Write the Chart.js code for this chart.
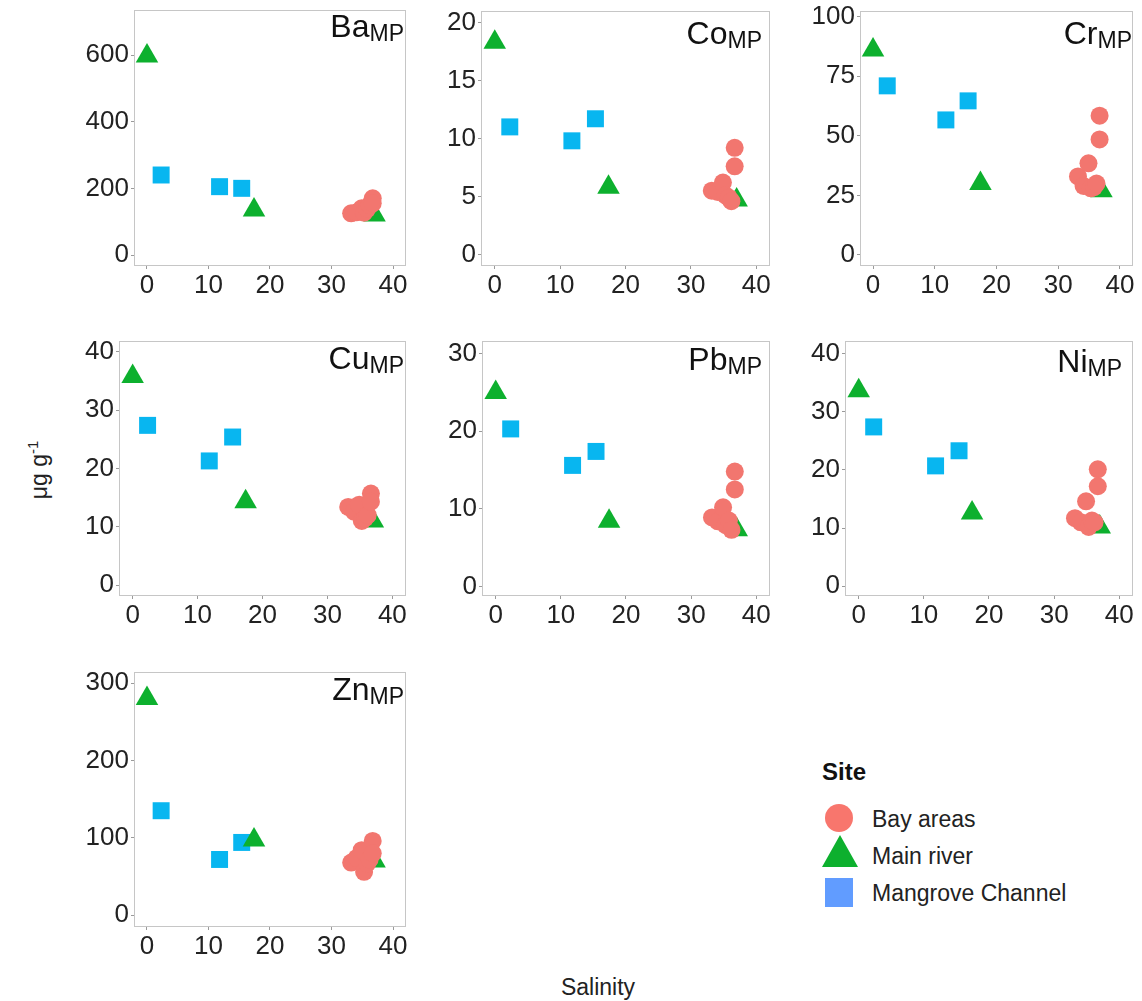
<!DOCTYPE html>
<html>
<head>
<meta charset="utf-8">
<script src="https://cdn.jsdelivr.net/npm/chart.js@4.4.1/dist/chart.umd.min.js"></script>
<style>
  body { margin: 0; background: #fff; width: 1142px; height: 1001px; position: relative; overflow: hidden;
         font-family: "Liberation Sans", Arial, sans-serif; color: #111; }
  canvas { position: absolute; }
  .ttl { position: absolute; font-size: 32px; line-height: 1; white-space: nowrap; }
  .ttl sub { font-size: 23px; vertical-align: -4px; line-height: 0; }
  .lbl { position: absolute; font-size: 23px; line-height: 1; white-space: nowrap; color: #222; }
  .legtitle { position: absolute; left: 822px; top: 760px; font-size: 24px; font-weight: bold; line-height: 1; }
  .legitem { position: absolute; left: 872px; font-size: 23px; line-height: 1; white-space: nowrap; color: #222; }
  #legkeys { position: absolute; left: 815px; top: 798px; }
</style>
</head>
<body>
<div class="lbl" style="left:38px;top:470px;transform:translate(-50%,-50%) rotate(-90deg);">μg g<sup style="font-size:15px">-1</sup></div>
<div class="lbl" style="left:598px;top:976px;transform:translateX(-50%);">Salinity</div>

<div class="legtitle">Site</div>
<svg id="legkeys" width="50" height="115">
  <circle cx="24" cy="20" r="14" fill="#F8766D"/>
  <polygon points="25,37 43,69 7,69" fill="#0DB02E"/>
  <rect x="10" y="80" width="28" height="29" fill="#619CFF"/>
</svg>
<div class="legitem" style="top:808px">Bay areas</div>
<div class="legitem" style="top:845px">Main river</div>
<div class="legitem" style="top:882px">Mangrove Channel</div>

<script>
// salinity of the sampling sites
const xTicks = [0, 10, 20, 30, 40];
const elements = ['Ba', 'Co', 'Cr', 'Cu', 'Pb', 'Ni', 'Zn'];
const siteNames = ['Bay areas', 'Main river', 'Mangrove Channel'];
const baySalinity = [33.2, 34.1, 34.9, 35.3, 35.8, 36.2, 36.7, 36.7];
const riverSalinity = [0, 17.4, 37.0];
const mangroveSalinity = [2.3, 11.8, 15.4];

// concentrations (µg/g), one row per element in the order above
const bayValues = [
  [125, 128, 140, 127, 138, 150, 170, 155],
  [5.5, 5.4, 6.2, 5.1, 4.9, 4.6, 9.2, 7.6],
  [33, 29, 38.5, 28, 28.5, 30, 58.5, 48.5],
  [13.4, 12.6, 13.8, 11.0, 11.5, 12.0, 15.7, 14.3],
  [8.9, 8.4, 10.2, 7.9, 8.5, 7.3, 14.8, 12.5],
  [11.7, 11.0, 14.6, 10.2, 11.3, 11.0, 20.1, 17.2],
  [68, 74, 84, 56, 67, 72, 96, 80]
];
const riverValues = [
  [597, 135, 120],
  [18.3, 5.8, 4.7],
  [86, 30, 27],
  [35.8, 14.3, 11],
  [25, 8.4, 7.3],
  [33.6, 12.6, 10.2],
  [280, 97, 70]
];
const mangroveValues = [
  [240, 205, 200],
  [11.0, 9.8, 11.7],
  [71, 56.7, 64.7],
  [27.4, 21.3, 25.4],
  [20.3, 15.6, 17.4],
  [27.4, 20.7, 23.3],
  [135, 72, 94]
];
const yTicks = [
  [0, 200, 400, 600],
  [0, 5, 10, 15, 20],
  [0, 25, 50, 75, 100],
  [0, 10, 20, 30, 40],
  [0, 10, 20, 30],
  [0, 10, 20, 30, 40],
  [0, 100, 200, 300]
];
const yLimits = [[-30, 732], [-0.9, 20.9], [-4.2, 102], [-1.7, 41.7], [-1.1, 31.5], [-1.5, 42], [-14, 313]];
const xLimits = [-1.95, 41.95];

// layout: plot area of each panel on the page (left, top, right, bottom)
const panelBoxes = [
  [135, 11, 405, 265], [482, 12, 769, 265], [861, 12, 1132, 265],
  [120, 342, 405, 595], [483, 342, 769, 595], [846, 342, 1132, 595],
  [135, 673, 405, 926]
];
// title: gap to the right border, baseline below the top border
const titlePos = [[1, 26], [7, 32], [0, 31.5], [1, 26.5], [7, 28], [10, 30], [1, 27]];

const Y_W = 72, X_H = 40, PT = 14, PR = 3;
const FONT = 'Liberation Sans, Arial, sans-serif';

const panelBorder = {
  id: 'panelBorder',
  afterDatasetsDraw(chart) {
    const a = chart.chartArea, ctx = chart.ctx;
    ctx.save();
    ctx.strokeStyle = '#c6c6c6';
    ctx.lineWidth = 1;
    ctx.strokeRect(a.left - 0.5, a.top - 0.5, a.right - a.left + 1, a.bottom - a.top + 1);
    ctx.restore();
  }
};

function toPoints(xs, ys) {
  return xs.map((x, i) => ({ x: x, y: ys[i] }));
}

elements.forEach((el, i) => {
  const [L, T, R, B] = panelBoxes[i];
  const cv = document.createElement('canvas');
  cv.width = Y_W + (R - L) + PR;
  cv.height = PT + (B - T) + X_H;
  cv.style.left = (L - Y_W) + 'px';
  cv.style.top = (T - PT) + 'px';
  document.body.appendChild(cv);

  new Chart(cv.getContext('2d'), {
    type: 'scatter',
    data: {
      datasets: [
        { label: siteNames[0], data: toPoints(baySalinity, bayValues[i]), pointStyle: 'circle',
          pointRadius: 9, backgroundColor: '#F2766F', borderColor: '#F2766F', borderWidth: 0 },
        { label: siteNames[1], data: toPoints(riverSalinity, riverValues[i]), pointStyle: 'triangle',
          pointRadius: 13, backgroundColor: '#0DB02E', borderColor: '#0DB02E', borderWidth: 0 },
        { label: siteNames[2], data: toPoints(mangroveSalinity, mangroveValues[i]), pointStyle: 'rect',
          pointRadius: 12, backgroundColor: '#08B6F0', borderColor: '#08B6F0', borderWidth: 0 }
      ]
    },
    options: {
      responsive: false,
      animation: false,
      devicePixelRatio: 1,
      layout: { autoPadding: false, padding: { top: PT, right: PR, left: 0, bottom: 0 } },
      plugins: { legend: { display: false }, tooltip: { enabled: false } },
      scales: {
        x: {
          type: 'linear', bounds: 'data', min: xLimits[0], max: xLimits[1],
          afterBuildTicks: s => { s.ticks = xTicks.map(v => ({ value: v })); },
          afterFit: s => { s.height = X_H; s.paddingLeft = 0; s.paddingRight = 0; },
          grid: { drawOnChartArea: false, drawTicks: true, tickLength: 4, color: '#9a9a9a' },
          border: { display: false },
          ticks: { font: { size: 26, family: FONT }, color: '#222', padding: 1, maxRotation: 0, autoSkip: false }
        },
        y: {
          type: 'linear', bounds: 'data', min: yLimits[i][0], max: yLimits[i][1],
          afterBuildTicks: s => { s.ticks = yTicks[i].map(v => ({ value: v })); },
          afterFit: s => { s.width = Y_W; s.paddingTop = 0; s.paddingBottom = 0; },
          grid: { drawOnChartArea: false, drawTicks: true, tickLength: 4, color: '#9a9a9a' },
          border: { display: false },
          ticks: { font: { size: 26, family: FONT }, color: '#222', padding: 2, autoSkip: false }
        }
      }
    },
    plugins: [panelBorder]
  });

  // panel title, e.g. Ba with subscript MP
  const t = document.createElement('div');
  t.className = 'ttl';
  t.innerHTML = el + '<sub>MP</sub>';
  t.style.right = (1142 - (R - titlePos[i][0])) + 'px';
  t.style.top = (T + titlePos[i][1] - 27) + 'px';
  document.body.appendChild(t);
});
</script>
</body>
</html>
